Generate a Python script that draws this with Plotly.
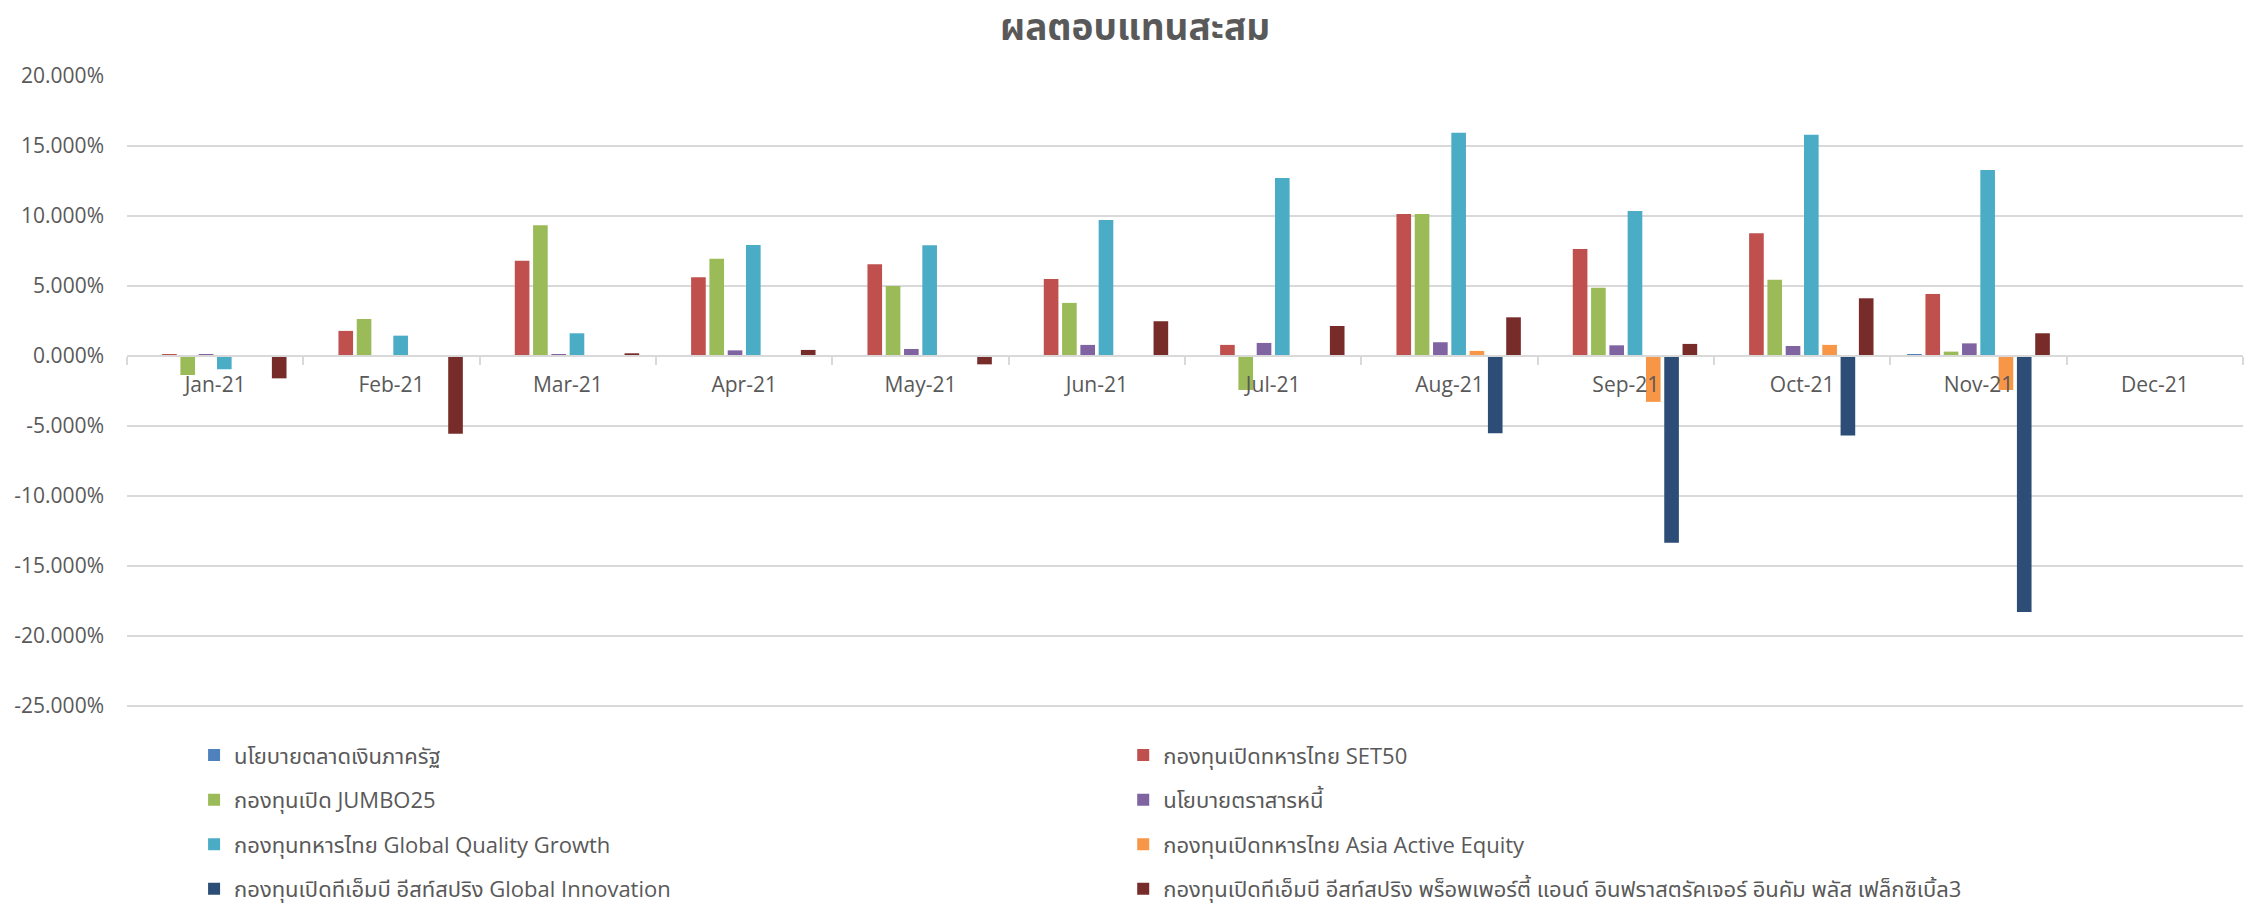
import plotly.graph_objects as go

months = ["Jan-21", "Feb-21", "Mar-21", "Apr-21", "May-21", "Jun-21",
          "Jul-21", "Aug-21", "Sep-21", "Oct-21", "Nov-21", "Dec-21"]

series_names = [
    "นโยบายตลาดเงินภาครัฐ",
    "กองทุนเปิดทหารไทย SET50",
    "กองทุนเปิด JUMBO25",
    "นโยบายตราสารหนี้",
    "กองทุนทหารไทย Global Quality Growth",
    "กองทุนเปิดทหารไทย Asia Active Equity",
    "กองทุนเปิดทีเอ็มบี อีสท์สปริง Global Innovation",
    "กองทุนเปิดทีเอ็มบี อีสท์สปริง พร็อพเพอร์ตี้ แอนด์ อินฟราสตรัคเจอร์ อินคัม พลัส เฟล็กซิเบิ้ล3",
]

# cumulative returns, percent
money_market = [0.01, 0.01, 0.02, 0.02, 0.03, 0.03, 0.04, 0.04, 0.05, 0.06, 0.07, None]
set50 = [0.14, 1.79, 6.81, 5.62, 6.55, 5.50, 0.79, 10.14, 7.64, 8.76, 4.43, None]
jumbo25 = [-1.36, 2.64, 9.33, 6.95, 5.00, 3.79, -2.43, 10.14, 4.88, 5.45, 0.31, None]
bond = [0.10, 0.02, 0.14, 0.40, 0.50, 0.79, 0.93, 0.98, 0.76, 0.71, 0.90, None]
global_quality = [-0.95, 1.45, 1.62, 7.93, 7.90, 9.71, 12.71, 15.95, 10.36, 15.81, 13.29, None]
asia_active = [None, None, None, None, None, None, None, 0.36, -3.28, 0.79, -2.43, None]
global_innovation = [None, None, None, None, None, None, None, -5.53, -13.35, -5.68, -18.29, None]
property_infra = [-1.60, -5.55, 0.19, 0.43, -0.60, 2.48, 2.14, 2.76, 0.86, 4.12, 1.62, None]

all_values = [money_market, set50, jumbo25, bond, global_quality,
              asia_active, global_innovation, property_infra]

colors = ["#4F81BD", "#C0504D", "#9BBB59", "#8064A2",
          "#4BACC6", "#F79646", "#2C4D75", "#772C2A"]

y_tick_vals = [20, 15, 10, 5, 0, -5, -10, -15, -20, -25]
y_tick_labels = ["20.000%", "15.000%", "10.000%", "5.000%", "0.000%",
                 "-5.000%", "-10.000%", "-15.000%", "-20.000%", "-25.000%"]

FONT = "Open Sans, Noto Sans Thai, sans-serif"
GRAY = "#595959"

fig = go.Figure()
for i, (name, vals, col) in enumerate(zip(series_names, all_values, colors)):
    fig.add_trace(go.Bar(
        x=months, y=vals, name=name,
        marker=dict(color=col, line=dict(width=0)),
        legendgroup=f"g{i}",
        legend="legend" if i % 2 == 0 else "legend2",
    ))

y_min, y_max = -25.15, 20.0
zero_frac = (0 - y_min) / (y_max - y_min)

W, H = 2254, 898

legend_common = dict(
    orientation="v", yanchor="top", y=-0.0415, xanchor="left",
    font=dict(family=FONT, size=22, color=GRAY),
    tracegroupgap=13, bgcolor="rgba(0,0,0,0)", borderwidth=0,
)

fig.update_layout(
    width=W, height=H,
    margin=dict(l=119, r=19, t=68, b=198, autoexpand=False),
    paper_bgcolor="white", plot_bgcolor="white",
    barmode="group", bargap=0.17, bargroupgap=0.2,
    title=dict(text="<b>ผลตอบแทนสะสม</b>", x=0.5, xanchor="center",
               y=1 - 19 / H, yanchor="middle",
               font=dict(family=FONT, size=37, color=GRAY)),
    xaxis=dict(
        type="category", categoryorder="array", categoryarray=months,
        range=[-0.5, 11.5],
        anchor="free", position=zero_frac,
        showline=True, linecolor="#D9D9D9", linewidth=1.5,
        ticks="outside", tickson="boundaries", ticklen=8, tickcolor="#D9D9D9",
        tickwidth=1.5, showgrid=False, ticklabelstandoff=10,
        tickfont=dict(family=FONT, size=21, color=GRAY),
    ),
    yaxis=dict(
        range=[y_min, y_max], tickmode="array",
        tickvals=y_tick_vals, ticktext=y_tick_labels,
        showgrid=True, gridcolor="#D9D9D9", gridwidth=1.5,
        zeroline=False, showline=False, ticks="",
        ticklabelstandoff=22,
        tickfont=dict(family=FONT, size=21, color=GRAY),
    ),
    legend=dict(x=0.0317, **legend_common),
    legend2=dict(x=0.4708, **legend_common),
)

fig.write_html("out.html")
